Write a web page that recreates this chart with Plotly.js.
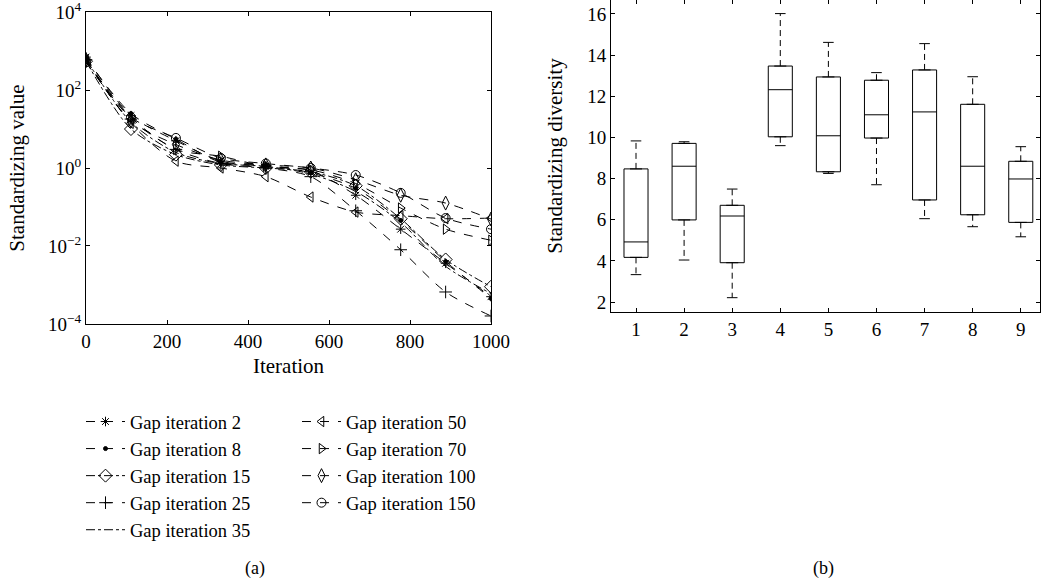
<!DOCTYPE html>
<html>
<head>
<meta charset="utf-8">
<script src="https://cdn.plot.ly/plotly-3.0.1.min.js"></script>
<style>html,body{margin:0;padding:0;background:#fff;}#chart{width:1041px;height:579px;}</style>
</head>
<body>
<div id="chart"></div>
<script>
// ---------- Panel (a) data ----------
const ITER = [0, 111, 222, 333, 444, 555, 666, 777, 888, 1000];
const SERIES_NAMES = ['Gap iteration 2', 'Gap iteration 8', 'Gap iteration 15', 'Gap iteration 25',
  'Gap iteration 35', 'Gap iteration 50', 'Gap iteration 70', 'Gap iteration 100', 'Gap iteration 150'];
const GAP2   = [700, 22, 5.0, 1.5, 1.1, 0.85, 0.20, 0.027, 0.0036, 0.0005];
const GAP8   = [650, 25, 5.5, 1.4, 1.2, 0.75, 0.30, 0.045, 0.0040, 0.00045];
const GAP15  = [550, 10, 2.2, 1.2, 1.0, 0.80, 0.35, 0.050, 0.0045, 0.0009];
const GAP25  = [600, 18, 3.0, 1.3, 1.0, 0.60, 0.08, 0.008, 0.00066, 0.00016];
const GAP35  = [620, 15, 2.5, 1.3, 1.1, 0.70, 0.25, 0.040, 0.0030, 0.0006];
const GAP50  = [600, 14, 1.5, 1.0, 0.6, 0.18, 0.074, 0.060, 0.050, 0.052];
const GAP70  = [580, 20, 3.0, 2.0, 1.1, 0.90, 0.40, 0.094, 0.027, 0.014];
const GAP100 = [600, 16, 4.0, 1.6, 1.2, 1.00, 0.50, 0.200, 0.126, 0.049];
const GAP150 = [520, 20, 5.9, 1.8, 1.3, 1.00, 0.66, 0.230, 0.052, 0.027];
const SERIES_VALUES = [GAP2, GAP8, GAP15, GAP25, GAP35, GAP50, GAP70, GAP100, GAP150];
const X_TICKS = [0, 200, 400, 600, 800, 1000];
const Y_TICKS = [1e-4, 1e-2, 1, 1e2, 1e4];
const Y_TICK_TEXT = ['10<sup>\u22124</sup>', '10<sup>\u22122</sup>', '10<sup>0</sup>', '10<sup>2</sup>', '10<sup>4</sup>'];

// ---------- Panel (b) data ----------
const GROUPS = [1, 2, 3, 4, 5, 6, 7, 8, 9];
const LOWER  = [3.33, 4.04, 2.21, 9.60, 8.25, 7.70, 6.05, 5.66, 5.17];
const Q1     = [4.17, 5.99, 3.91, 10.03, 8.33, 9.97, 6.96, 6.24, 5.87];
const MEDIAN = [4.92, 8.60, 6.18, 12.32, 10.08, 11.10, 11.24, 8.60, 7.98];
const Q3     = [8.47, 9.71, 6.70, 13.47, 12.94, 12.78, 13.28, 11.61, 8.84];
const UPPER  = [9.83, 9.79, 7.49, 16.02, 14.62, 13.15, 14.56, 12.95, 9.55];
const B_Y_TICKS = [2, 4, 6, 8, 10, 12, 14, 16];

// ---------- styles ----------
const FONT = 'Liberation Serif, Times New Roman, serif';
const STYLES = [
  {symbol: 'asterisk-open', size: 8, dash: 'dash', mode: 'lines+markers', legend: 'legend'},
  {symbol: 'circle', size: 4, dash: 'dash', mode: 'lines+markers', legend: 'legend'},
  {symbol: 'diamond-open', size: 10, dash: 'dashdot', mode: 'lines+markers', legend: 'legend'},
  {symbol: 'cross-thin-open', size: 9, dash: 'dash', mode: 'lines+markers', legend: 'legend'},
  {symbol: 'circle', size: 0, dash: 'dashdot', mode: 'lines', legend: 'legend'},
  {symbol: 'triangle-left-open', size: 9, dash: 'dash', mode: 'lines+markers', legend: 'legend2'},
  {symbol: 'triangle-right-open', size: 9, dash: 'dash', mode: 'lines+markers', legend: 'legend2'},
  {symbol: 'diamond-tall-open', size: 10, dash: 'dash', mode: 'lines+markers', legend: 'legend2'},
  {symbol: 'circle-open', size: 9, dash: 'dash', mode: 'lines+markers', legend: 'legend2'}
];

const W = 1041, H = 579;
const px = v => v / W;
const py = v => 1 - v / H;

const traces = SERIES_VALUES.map((vals, i) => ({
  type: 'scatter',
  x: ITER,
  y: vals,
  name: SERIES_NAMES[i],
  mode: STYLES[i].mode,
  xaxis: 'x', yaxis: 'y',
  legend: STYLES[i].legend,
  line: {color: '#000', width: 1, dash: STYLES[i].dash, shape: 'spline', smoothing: 0.8},
  marker: {symbol: STYLES[i].symbol, size: STYLES[i].size, color: '#000', line: {color: '#000', width: 1}},
  hoverinfo: 'x+y+name'
}));

// boxes (b)
traces.push({
  type: 'box',
  x: GROUPS,
  q1: Q1, median: MEDIAN, q3: Q3,
  lowerfence: Q1, upperfence: Q3,
  width: 0.5,
  xaxis: 'x2', yaxis: 'y2',
  line: {color: '#000', width: 1},
  fillcolor: 'rgba(0,0,0,0)',
  showlegend: false,
  hoverinfo: 'skip'
});
// dashed whiskers
const wx = [], wy = [];
GROUPS.forEach((g, i) => {
  wx.push(g, g, null, g, g, null);
  wy.push(Q3[i], UPPER[i], null, Q1[i], LOWER[i], null);
});
traces.push({
  type: 'scatter', mode: 'lines', x: wx, y: wy, xaxis: 'x2', yaxis: 'y2',
  line: {color: '#000', width: 1, dash: '6px,4px'}, showlegend: false, hoverinfo: 'skip', connectgaps: false
});
// whisker caps
const CAP = 0.11;
const cx = [], cy = [];
GROUPS.forEach((g, i) => {
  cx.push(g - CAP, g + CAP, null, g - CAP, g + CAP, null);
  cy.push(UPPER[i], UPPER[i], null, LOWER[i], LOWER[i], null);
});
traces.push({
  type: 'scatter', mode: 'lines', x: cx, y: cy, xaxis: 'x2', yaxis: 'y2',
  line: {color: '#000', width: 1}, showlegend: false, hoverinfo: 'skip', connectgaps: false
});

const axisCommon = {
  showline: true, linecolor: '#000', linewidth: 1, mirror: 'ticks',
  ticks: 'inside', ticklen: 4, tickcolor: '#000', tickwidth: 1,
  showgrid: false, zeroline: false, ticklabeloverflow: 'allow',
  tickfont: {family: FONT, size: 19, color: '#000'}
};

const legendCommon = {
  font: {family: FONT, size: 18.5, color: '#000'},
  bgcolor: 'rgba(0,0,0,0)', borderwidth: 0,
  xanchor: 'left', yanchor: 'top', orientation: 'v', traceorder: 'normal',
  itemwidth: 39, tracegroupgap: 0
};

const layout = {
  width: W, height: H,
  margin: {l: 0, r: 0, t: 0, b: 0},
  paper_bgcolor: '#fff', plot_bgcolor: '#fff',
  font: {family: FONT, color: '#000'},
  showlegend: true,
  xaxis: Object.assign({}, axisCommon, {
    domain: [px(86), px(491)], anchor: 'y',
    range: [0, 1000], tickvals: X_TICKS, ticktext: X_TICKS.map(String),
    title: {text: 'Iteration', font: {family: FONT, size: 21, color: '#000'}, standoff: 7}
  }),
  yaxis: Object.assign({}, axisCommon, {
    domain: [py(324), py(12)], anchor: 'x',
    type: 'log', range: [-4.002, 4.002], tickvals: Y_TICKS, ticktext: Y_TICK_TEXT,
    title: {text: 'Standardizing value', font: {family: FONT, size: 21, color: '#000'}, standoff: 17}
  }),
  xaxis2: Object.assign({}, axisCommon, {
    domain: [px(611), px(1040)], anchor: 'y2',
    range: [0.48, 9.4], tickvals: GROUPS, ticktext: GROUPS.map(String)
  }),
  yaxis2: Object.assign({}, axisCommon, {
    domain: [py(312), py(0)], anchor: 'x2',
    range: [1.514, 16.68], tickvals: B_Y_TICKS, ticktext: B_Y_TICKS.map(String),
    title: {text: 'Standardizing diversity', font: {family: FONT, size: 21, color: '#000'}, standoff: 18}
  }),
  legend: Object.assign({}, legendCommon, {x: px(81), y: py(403)}),
  legend2: Object.assign({}, legendCommon, {x: px(297), y: py(403)}),
  annotations: [
    {text: '(a)', x: px(255), y: py(568), xref: 'paper', yref: 'paper', showarrow: false,
     font: {family: FONT, size: 18, color: '#000'}, xanchor: 'center', yanchor: 'middle'},
    {text: '(b)', x: px(823), y: py(568), xref: 'paper', yref: 'paper', showarrow: false,
     font: {family: FONT, size: 18, color: '#000'}, xanchor: 'center', yanchor: 'middle'}
  ]
};

Plotly.newPlot('chart', traces, layout, {staticPlot: true, displayModeBar: false});
</script>
</body>
</html>
